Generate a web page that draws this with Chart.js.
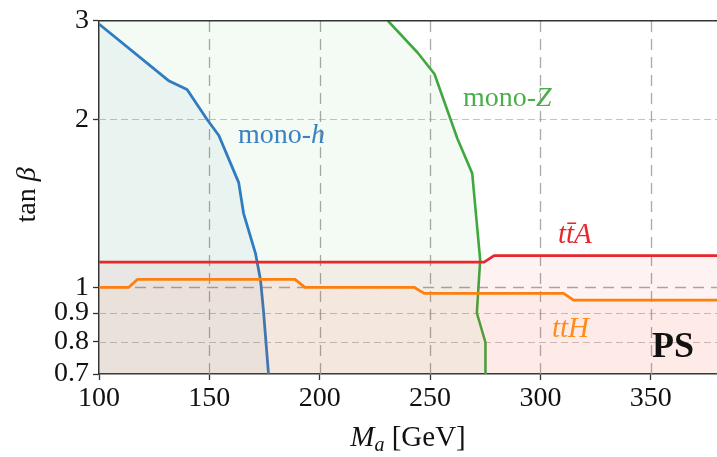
<!DOCTYPE html>
<html>
<head>
<meta charset="utf-8">
<script src="https://cdn.jsdelivr.net/npm/chart.js@4/dist/chart.umd.min.js"></script>
<style>
html,body{margin:0;padding:0;background:#fff;}
canvas{display:block;}
</style>
</head>
<body>
<canvas id="c" width="717" height="457"></canvas>
<script>
// ---- data ----
const xTicks = [100, 150, 200, 250, 300, 350];
const yTicks = [0.7, 0.8, 0.9, 1, 2, 3];
const yTickLabels = ['0.7', '0.8', '0.9', '1', '2', '3'];

const monoH_x = [100, 131.8, 139.9, 148.9, 154.3, 163.3, 165.5, 170.9, 173.2, 174.5, 176.8];
const monoH_y = [2.96, 2.34, 2.26, 2.0, 1.87, 1.54, 1.357, 1.151, 1.03, 0.91, 0.70];

const monoZ_x = [230.9, 244.4, 252.0, 262.4, 269.1, 272.7, 271.2, 275.1, 275.1];
const monoZ_y = [3.0, 2.63, 2.41, 1.845, 1.60, 1.12, 0.90, 0.797, 0.70];

const ttA_x = [100, 274.5, 279.0, 380];
const ttA_y = [1.11, 1.11, 1.14, 1.14];

const ttH_x = [100, 113.4, 117.5, 188.8, 193.3, 242.9, 247.4, 310.5, 315.0, 380];
const ttH_y = [1.0, 1.0, 1.034, 1.034, 1.0, 1.0, 0.976, 0.976, 0.949, 0.949];

const xRange = [100, 380];
const yRange = [0.7, 3];

// ---- helpers ----
const pts = (xs, ys) => xs.map((x, i) => ({x: x, y: ys[i]}));
const FONT = '"Liberation Serif", "DejaVu Serif", serif';

function drawRich(ctx, parts, x, y, align) {
  let total = 0;
  parts.forEach(p => {
    ctx.font = (p.style || 'normal') + ' ' + p.size + 'px ' + FONT;
    p.w = ctx.measureText(p.text).width;
    total += p.w;
  });
  let cx = align === 'center' ? x - total / 2 : (align === 'right' ? x - total : x);
  ctx.textBaseline = 'alphabetic';
  ctx.textAlign = 'left';
  parts.forEach(p => {
    ctx.font = (p.style || 'normal') + ' ' + p.size + 'px ' + FONT;
    ctx.fillStyle = p.color;
    ctx.fillText(p.text, cx, y + (p.dy || 0));
    cx += p.w;
  });
}

const hvLine = (ctx, x1, y1, x2, y2) => { ctx.beginPath(); ctx.moveTo(x1, y1); ctx.lineTo(x2, y2); ctx.stroke(); };

const gridPlugin = {
  id: 'customGrid',
  beforeDatasetsDraw(chart) {
    const {ctx, chartArea: a, scales: {x, y}} = chart;
    ctx.save();
    // minor horizontal (2, 0.9, 0.8)
    ctx.strokeStyle = 'rgba(190,190,190,0.9)';
    ctx.lineWidth = 1;
    ctx.setLineDash([7, 4]);
    [2, 0.9, 0.8].forEach(v => {
      const py = Math.round(y.getPixelForValue(v)) + 0.5;
      hvLine(ctx, a.left, py, a.right, py);
    });
    // major: vertical and y = 1
    ctx.strokeStyle = 'rgba(160,160,160,0.9)';
    ctx.lineWidth = 1.3;
    ctx.setLineDash([11, 7]);
    xTicks.slice(1).forEach(v => {
      const px = Math.round(x.getPixelForValue(v)) + 0.5;
      hvLine(ctx, px, a.bottom, px, a.top);
    });
    const p1 = Math.round(y.getPixelForValue(1)) + 0.5;
    hvLine(ctx, a.left, p1, a.right, p1);
    ctx.restore();
  },
  afterDraw(chart) {
    const {ctx, chartArea: a} = chart;
    ctx.save();
    // top spine
    ctx.strokeStyle = '#333';
    ctx.lineWidth = 1.5;
    hvLine(ctx, a.left, a.top, a.right, a.top);
    // labels
    drawRich(ctx, [{text: 'mono-', size: 28, color: '#3a82c4'}, {text: 'h', style: 'italic', size: 28, color: '#3a82c4'}], 238, 143, 'left');
    drawRich(ctx, [{text: 'mono-', size: 28, color: '#4aae4a'}, {text: 'Z', style: 'italic', size: 28, color: '#4aae4a'}], 463, 106, 'left');
    drawRich(ctx, [{text: 'tt\u0304A', style: 'italic', size: 29, color: '#e8262b'}], 558, 243, 'left');
    drawRich(ctx, [{text: 'ttH', style: 'italic', size: 29, color: '#ff8c1a'}], 552, 337, 'left');
    drawRich(ctx, [{text: 'PS', style: 'bold', size: 36, color: '#111'}], 652, 357, 'left');
    // x-axis title
    drawRich(ctx, [
      {text: 'M', style: 'italic', size: 29, color: '#111'},
      {text: 'a', style: 'italic', size: 20, color: '#111', dy: 5},
      {text: ' [GeV]', size: 29, color: '#111'}
    ], (a.left + a.right) / 2, 446, 'center');
    // y-axis title
    ctx.translate(35, 195);
    ctx.rotate(-Math.PI / 2);
    drawRich(ctx, [
      {text: 'tan ', size: 28, color: '#111'},
      {text: '\u03B2', style: 'italic', size: 28, color: '#111'}
    ], 0, 0, 'center');
    ctx.restore();
  }
};

const tickFont = {family: FONT, size: 28};

new Chart(document.getElementById('c'), {
  type: 'line',
  data: {
    datasets: [
      { // mono-Z excluded region
        data: pts(monoZ_x, monoZ_y).concat([{x: xRange[0], y: yRange[0]}, {x: xRange[0], y: yRange[1]}]),
        borderWidth: 0, backgroundColor: 'rgba(44,160,44,0.05)', fill: 'shape', order: 10
      },
      { // mono-h excluded region
        data: pts(monoH_x, monoH_y).concat([{x: xRange[0], y: yRange[0]}]),
        borderWidth: 0, backgroundColor: 'rgba(31,119,180,0.05)', fill: 'shape', order: 9
      },
      { // ttA
        data: pts(ttA_x, ttA_y), borderColor: '#e8262b', borderWidth: 2.8,
        backgroundColor: 'rgba(228,26,28,0.055)', fill: 'start', order: 2
      },
      { // ttH
        data: pts(ttH_x, ttH_y), borderColor: '#ff7f0e', borderWidth: 2.8,
        backgroundColor: 'rgba(255,110,40,0.05)', fill: 'start', order: 1
      },
      { // mono-h
        data: pts(monoH_x, monoH_y), borderColor: '#2f7dc0', borderWidth: 2.8, fill: false, order: 4
      },
      { // mono-Z
        data: pts(monoZ_x, monoZ_y), borderColor: '#3fa93f', borderWidth: 2.6, fill: false, order: 3
      }
    ]
  },
  options: {
    responsive: false,
    animation: false,
    devicePixelRatio: 1,
    layout: {padding: {top: 20, right: 0, left: 0, bottom: 0}},
    plugins: {legend: {display: false}, tooltip: {enabled: false}},
    elements: {point: {radius: 0}, line: {tension: 0, borderJoinStyle: 'round'}},
    scales: {
      x: {
        type: 'linear', min: xRange[0], max: xRange[1],
        afterBuildTicks: s => { s.ticks = xTicks.map(v => ({value: v})); },
        afterFit: s => { s.height = 83; },
        grid: {drawOnChartArea: false, tickLength: 6, tickColor: '#333', tickWidth: 1.3},
        border: {color: '#333', width: 1.5},
        ticks: {font: tickFont, color: '#111', padding: 2, maxRotation: 0, autoSkip: false, callback: v => String(v)}
      },
      y: {
        type: 'logarithmic', min: yRange[0], max: yRange[1],
        afterBuildTicks: s => { s.ticks = yTicks.map(v => ({value: v})); },
        afterFit: s => { s.width = 99; },
        grid: {drawOnChartArea: false, tickLength: 6, tickColor: '#333', tickWidth: 1.3},
        border: {color: '#333', width: 1.5},
        ticks: {font: tickFont, color: '#111', padding: 4, autoSkip: false,
                callback: v => { const i = yTicks.indexOf(v); return i >= 0 ? yTickLabels[i] : ''; }}
      }
    }
  },
  plugins: [gridPlugin]
});
</script>
</body>
</html>
